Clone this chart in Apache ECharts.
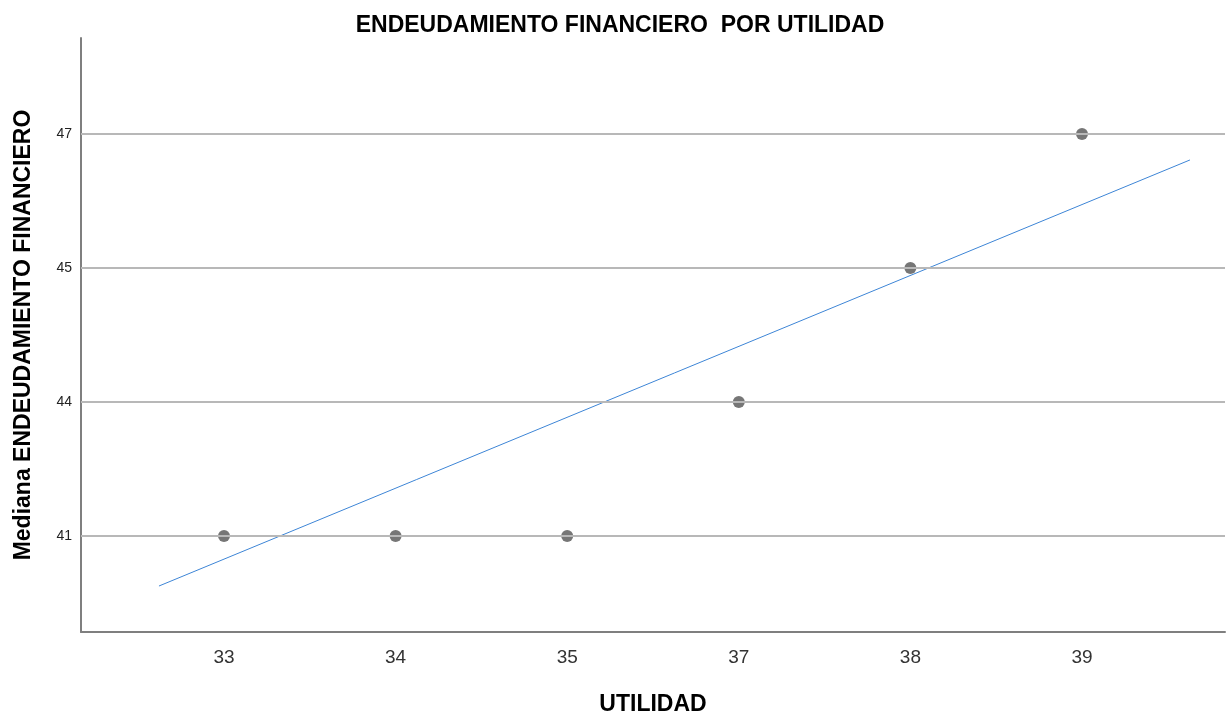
<!DOCTYPE html>
<html><head><meta charset="utf-8">
<script src="https://cdn.jsdelivr.net/npm/echarts@6/dist/echarts.min.js"></script>
<style>html,body{margin:0;padding:0;background:#fff}#c{width:1229px;height:714px}</style>
</head><body><div id="c"></div>
<script>
const xCategories = ['33', '34', '35', '37', '38', '39'];
const yCategories = ['41', '44', '45', '47'];
const medianValues = ['41', '41', '41', '44', '45', '47'];
// fit line endpoints in category-index units [x, y]
const fitLine = [[-0.379, -0.373], [5.629, 2.806]];

const points = xCategories.map((c, i) => [i, yCategories.indexOf(medianValues[i])]);
const xIdx = xCategories.map((_, i) => i);
const yIdx = yCategories.map((_, i) => i);

const chart = echarts.init(document.getElementById('c'), null, {renderer: 'canvas'});
chart.setOption({
  animation: false,
  title: {
    text: 'ENDEUDAMIENTO FINANCIERO  POR UTILIDAD',
    left: 615, top: 9, textAlign: 'center',
    textStyle: {fontFamily: 'Liberation Sans, Arial', fontSize: 23, fontWeight: 'bold', color: '#000'}
  },
  grid: {left: 81, right: 4, top: 38, bottom: 82, containLabel: false, outerBoundsMode: 'none'},
  xAxis: {
    type: 'value', min: -0.8333, max: 5.8333,
    name: 'UTILIDAD', nameLocation: 'middle', nameGap: 61,
    nameTextStyle: {fontFamily: 'Liberation Sans, Arial', fontSize: 23, fontWeight: 'bold', color: '#000'},
    axisLine: {show: true, onZero: false, lineStyle: {color: '#7f7f7f', width: 2}},
    axisTick: {show: false, customValues: xIdx},
    axisLabel: {customValues: xIdx, formatter: v => xCategories[Math.round(v)], fontFamily: 'Liberation Sans, Arial', fontSize: 19, color: '#333', margin: 16},
    splitLine: {show: false}
  },
  yAxis: {
    type: 'value', min: -0.716, max: 3.716,
    name: 'Mediana ENDEUDAMIENTO FINANCIERO', nameLocation: 'middle', nameGap: 46, nameRotate: 90,
    nameTextStyle: {fontFamily: 'Liberation Sans, Arial', fontSize: 23, fontWeight: 'bold', color: '#000'},
    axisLine: {show: true, onZero: false, lineStyle: {color: '#7f7f7f', width: 2}},
    axisTick: {show: false, customValues: yIdx},
    axisLabel: {customValues: yIdx, formatter: v => yCategories[Math.round(v)], fontFamily: 'Liberation Sans, Arial', fontSize: 14, color: '#222', margin: 9},
    splitLine: {show: false}
  },
  series: [
    {
      type: 'line', data: [], silent: true,
      markLine: {
        symbol: 'none', silent: true, label: {show: false},
        lineStyle: {color: '#b8b8b8', width: 2, type: 'solid'},
        data: yIdx.map(v => ({yAxis: v}))
      }
    },
    {
      type: 'line', data: fitLine, symbol: 'none', silent: true,
      lineStyle: {color: '#3d85d6', width: 1}, z: 3
    },
    {
      type: 'scatter', data: points, symbolSize: 12,
      itemStyle: {color: '#767676', opacity: 1}, z: 4
    }
  ]
});
</script></body></html>
